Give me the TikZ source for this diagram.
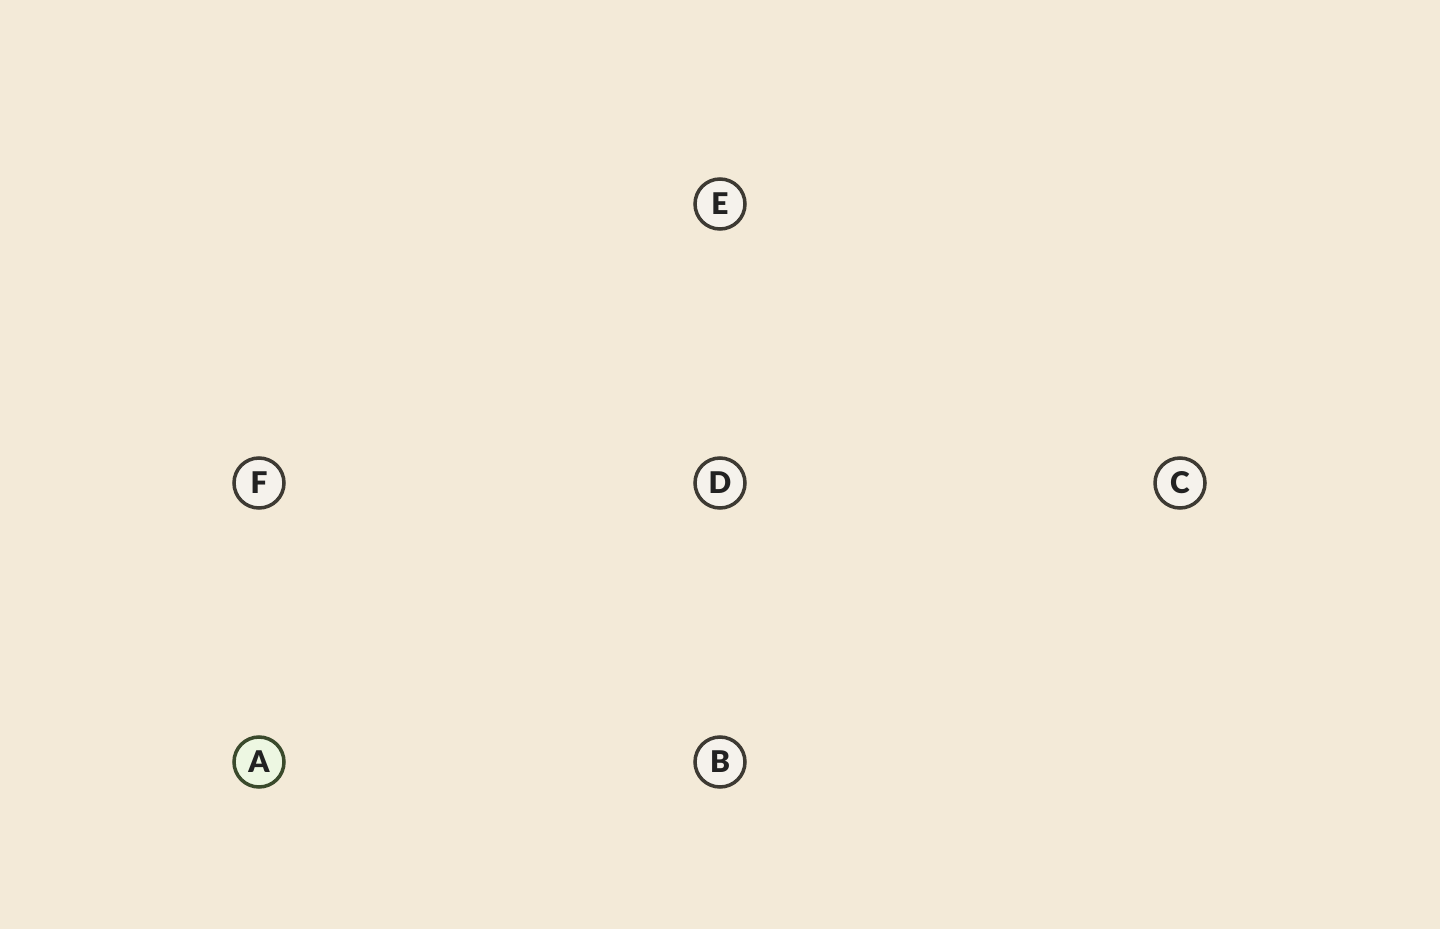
\documentclass[tikz,border=0pt]{standalone}
\usepackage{fontspec}
\setmainfont{Lato}
\newfontfamily\labelfont{Lato Black}
\definecolor{paper}{HTML}{F3EAD8}
\definecolor{ring}{HTML}{3D3A33}
\definecolor{nodefill}{HTML}{F5F2EC}
\definecolor{startring}{HTML}{3A4A2C}
\definecolor{startfill}{HTML}{EDF7E2}
\definecolor{ink}{HTML}{222222}
\begin{document}
\begin{tikzpicture}[x=0.02cm, y=-0.02cm, line width=2pt, main node/.style={circle,draw=ring,fill=nodefill,text=ink,minimum size=1.0cm,inner sep=0pt,font=\labelfont\fontsize{17}{20}\selectfont}, start node/.style={main node,draw=startring,fill=startfill}]
\fill[paper] (0,0) rectangle (1440,929);
\useasboundingbox (0,0) rectangle (1440,929);
\node[main node] (E) at (720,204) {E};%top
\node[main node] (F) at (259,483) {F};
\node[main node] (D) at (720,483) {D};
\node[main node] (C) at (1180,483) {C};
\node[start node] (A) at (259,762) {A};%start
\node[main node] (B) at (720,762) {B};
\end{tikzpicture}
\end{document}
